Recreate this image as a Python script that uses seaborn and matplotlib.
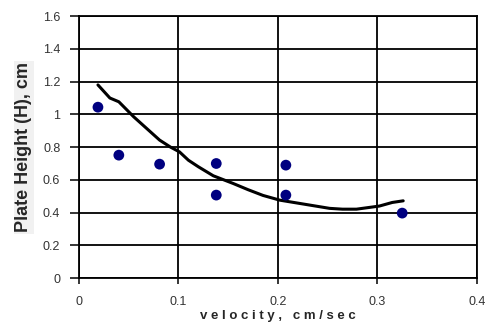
import numpy as np
import pandas as pd
import matplotlib.pyplot as plt
import seaborn as sns

# measured points
vel = [0.019, 0.040, 0.081, 0.138, 0.138, 0.208, 0.208, 0.325]
height = [1.044, 0.751, 0.696, 0.700, 0.507, 0.690, 0.507, 0.397]

# fitted curve
fit_vel = [0.019, 0.025, 0.031, 0.040, 0.055, 0.068, 0.081, 0.092, 0.101, 0.110,
           0.120, 0.135, 0.155, 0.170, 0.185, 0.202, 0.222, 0.242, 0.252,
           0.265, 0.279, 0.302, 0.315, 0.326]
fit_h = [1.18, 1.14, 1.10, 1.077, 0.985, 0.914, 0.843, 0.80, 0.771, 0.72,
         0.68, 0.625, 0.578, 0.54, 0.505, 0.476, 0.456, 0.436, 0.426,
         0.421, 0.421, 0.44, 0.462, 0.472]

pts = pd.DataFrame({"velocity": vel, "H": height})
fit = pd.DataFrame({"velocity": fit_vel, "H": fit_h})

sns.set_style("white")
plt.rcParams["font.family"] = ["Liberation Sans", "DejaVu Sans"]

fig = plt.figure(figsize=(4.88, 3.23), dpi=100)
ax = fig.add_axes([0.162, 0.139, 0.815, 0.811])

sns.lineplot(data=fit, x="velocity", y="H", sort=False, color="black", linewidth=2.2, ax=ax)
sns.scatterplot(data=pts, x="velocity", y="H", color="#000080", s=60, edgecolor="none",
                marker="o", ax=ax, zorder=5)

ax.set_xlim(0, 0.4)
ax.set_ylim(0, 1.6)
ax.set_xticks([0, 0.1, 0.2, 0.3, 0.4])
ax.set_xticklabels(["0", "0.1", "0.2", "0.3", "0.4"])
ax.set_yticks(np.arange(0, 1.61, 0.2))
ax.set_yticklabels(["0", "0.2", "0.4", "0.6", "0.8", "1", "1.2", "1.4", "1.6"])
ax.grid(True, color="black", linewidth=1.3)
for s in ax.spines.values():
    s.set_color("black")
    s.set_linewidth(1.3)
ax.tick_params(axis="y", direction="out", length=6.5, width=1.3, pad=7, labelsize=9, labelcolor="#333333", left=True)
ax.tick_params(axis="x", direction="out", length=4, width=1.3, pad=9, labelsize=9, labelcolor="#333333", bottom=True)

ax.set_xlabel("v e l o c i t y ,   c m / s e c", fontsize=9.5, fontweight="bold", labelpad=1)
ax.set_ylabel("Plate Height (H), cm", fontsize=13, fontweight="bold",
              bbox=dict(facecolor="#f1f1f1", edgecolor="none", pad=1))
ax.yaxis.set_label_coords(-0.118, 0.5)

fig.savefig("out.png", dpi=100)
